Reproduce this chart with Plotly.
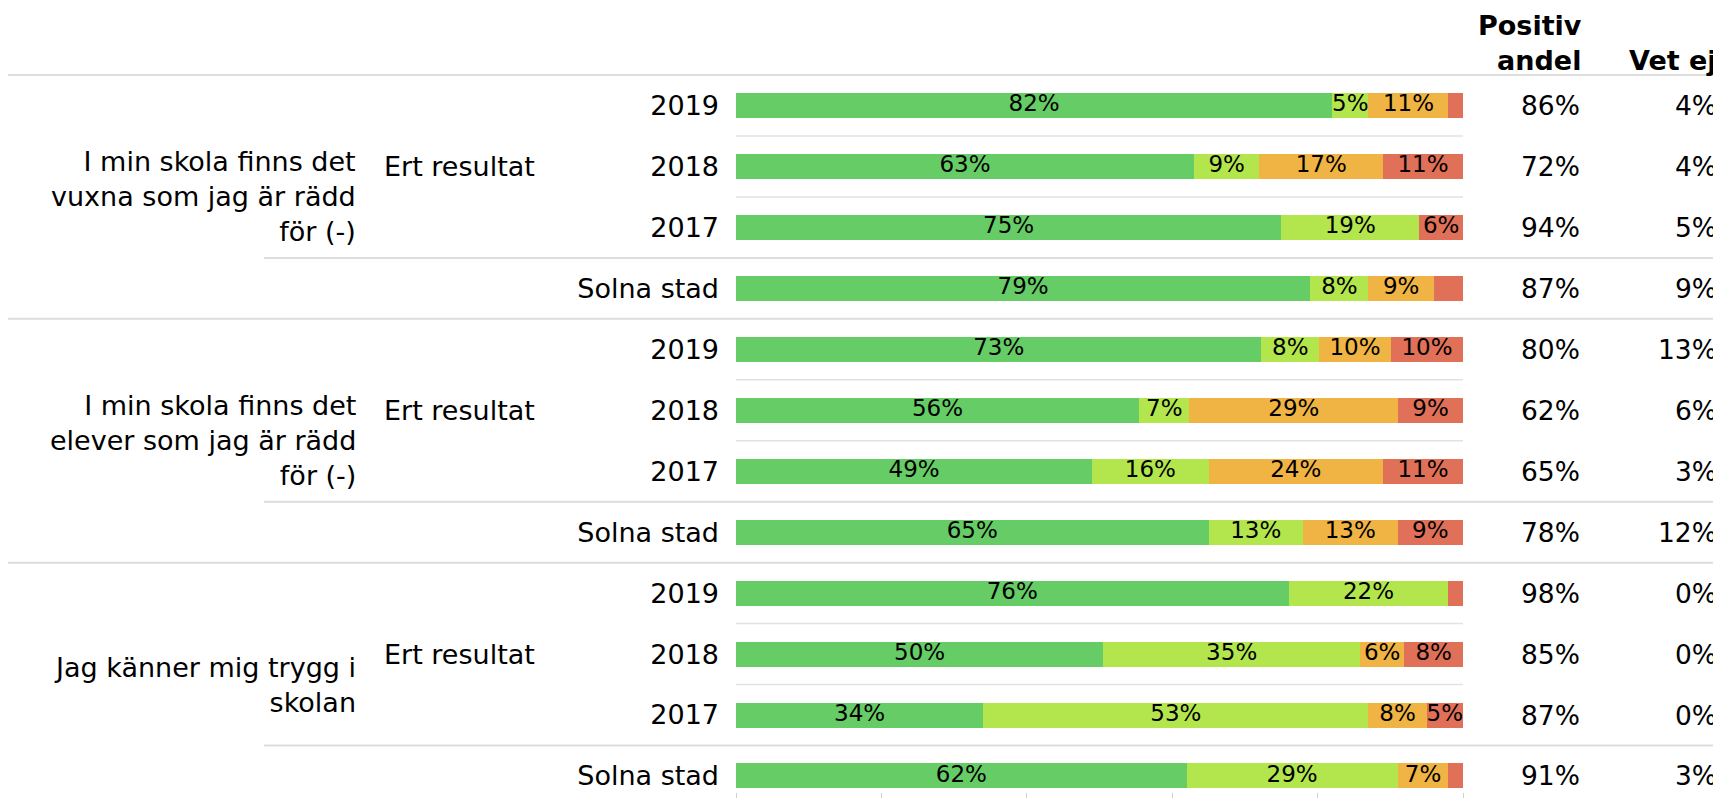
import plotly.graph_objects as go

# ---------------- data ----------------
questions = ["I min skola finns det<br>vuxna som jag är rädd<br>för (-)",
             "I min skola finns det<br>elever som jag är rädd<br>för (-)",
             "Jag känner mig trygg i<br>skolan"]
row_labels = ["2019", "2018", "2017", "Solna stad"] * 3
sub_label = "Ert resultat"
series_names = ["Stämmer helt", "Stämmer ganska bra", "Stämmer ganska dåligt", "Stämmer inte alls"]
series_colors = ["#66CC66", "#B3E64D", "#F0B444", "#E07058"]

green = [82, 63, 75, 79, 73, 56, 49, 65, 76, 50, 34, 62]
light_green = [5, 9, 19, 8, 8, 7, 16, 13, 22, 35, 53, 29]
orange = [11, 17, 0, 9, 10, 29, 24, 13, 0, 6, 8, 7]
red = [2, 11, 6, 4, 10, 9, 11, 9, 2, 8, 5, 2]

positiv_andel = [86, 72, 94, 87, 80, 62, 65, 78, 98, 85, 87, 91]
vet_ej = [4, 4, 5, 9, 13, 6, 3, 12, 0, 0, 0, 3]
header_pos = "Positiv<br>andel"
header_vet = "Vet ej"

# ---------------- figure ----------------
# page body has an 8px margin, so the figure is drawn 8px smaller and offset
OFF = 8
W, H = 1721 - OFF, 798 - OFF


def fx(px):
    return (px - OFF) / W


FONT = "DejaVu Sans, Liberation Sans, Arial, sans-serif"
rows = list(range(len(row_labels)))
series = [green, light_green, orange, red]
totals = [sum(s[i] for s in series) for i in rows]

fig = go.Figure()
cum = [0.0] * len(rows)
for name, vals, col in zip(series_names, series, series_colors):
    xs = [v / t * 100 for v, t in zip(vals, totals)]
    fig.add_trace(go.Bar(y=rows, x=xs, orientation="h", name=name,
                         marker=dict(color=col, line=dict(width=0)),
                         width=0.41, hoverinfo="skip", showlegend=False))
    mids = [c + x / 2 for c, x in zip(cum, xs)]
    txt = [f"{v}%" if v >= 5 else "" for v in vals]
    fig.add_trace(go.Scatter(y=rows, x=mids, mode="text", text=txt,
                             textfont=dict(family=FONT, size=23, color="#000"),
                             cliponaxis=False, hoverinfo="skip", showlegend=False))
    cum = [c + x for c, x in zip(cum, xs)]

shapes = []
line_c = "#dddddd"
for yv in [-0.5, 3.5, 7.5]:
    shapes.append(dict(type="line", xref="paper", yref="y", x0=0, x1=1, y0=yv, y1=yv,
                       line=dict(color=line_c, width=2)))
for yv in [2.5, 6.5, 10.5]:
    shapes.append(dict(type="line", xref="paper", yref="y", x0=fx(264), x1=1, y0=yv, y1=yv,
                       line=dict(color=line_c, width=2)))
for yv in [0.5, 1.5, 4.5, 5.5, 8.5, 9.5]:
    shapes.append(dict(type="line", xref="x", yref="y", x0=0, x1=100, y0=yv, y1=yv,
                       line=dict(color="#e2e2e2", width=1.5)))

ann = []
for g, q in enumerate(questions):
    ann.append(dict(text=q, xref="paper", yref="y", x=fx(358), y=g * 4 + 1.5,
                    xanchor="right", yanchor="middle", align="right", showarrow=False,
                    font=dict(family=FONT, size=27, color="#000")))
    ann.append(dict(text=sub_label, xref="paper", yref="y", x=fx(382), y=g * 4 + 1,
                    xanchor="left", yanchor="middle", align="left", showarrow=False,
                    font=dict(family=FONT, size=27, color="#000")))
for i in rows:
    ann.append(dict(text=f"{positiv_andel[i]}%", xref="paper", yref="y", x=fx(1582), y=i,
                    xanchor="right", yanchor="middle", showarrow=False,
                    font=dict(family=FONT, size=26.5, color="#000")))
    ann.append(dict(text=f"{vet_ej[i]}%", xref="paper", yref="y", x=fx(1719), y=i,
                    xanchor="right", yanchor="middle", showarrow=False,
                    font=dict(family=FONT, size=26.5, color="#000")))
ann.append(dict(text=f"<b>{header_pos}</b>", xref="paper", yref="y", x=fx(1584), y=-0.45,
                xanchor="right", yanchor="bottom", align="right", showarrow=False,
                font=dict(family=FONT, size=27, color="#000")))
ann.append(dict(text=f"<b>{header_vet}</b>", xref="paper", yref="y", x=fx(1719), y=-0.45,
                xanchor="right", yanchor="bottom", align="right", showarrow=False,
                font=dict(family=FONT, size=27, color="#000")))

fig.update_layout(
    width=W, height=H, barmode="stack", bargap=0,
    paper_bgcolor="white", plot_bgcolor="white",
    margin=dict(l=0, r=0, t=0, b=6),
    shapes=shapes, annotations=ann,
    xaxis=dict(domain=[fx(736), fx(1463)], range=[0, 100], tickvals=[0, 20, 40, 60, 80, 100],
               showticklabels=False, ticks="outside", ticklen=6, tickcolor="#d0d0d0",
               tickwidth=1, showgrid=False, zeroline=False, showline=False, fixedrange=True),
    yaxis=dict(range=[11.263, -1.600], tickvals=rows, ticktext=row_labels,
               ticks="", showgrid=False, zeroline=False, showline=False,
               ticklabelstandoff=16, tickfont=dict(family=FONT, size=27, color="#000"),
               fixedrange=True),
    font=dict(family=FONT),
)

fig.write_html("out.html", config={"displayModeBar": False})
